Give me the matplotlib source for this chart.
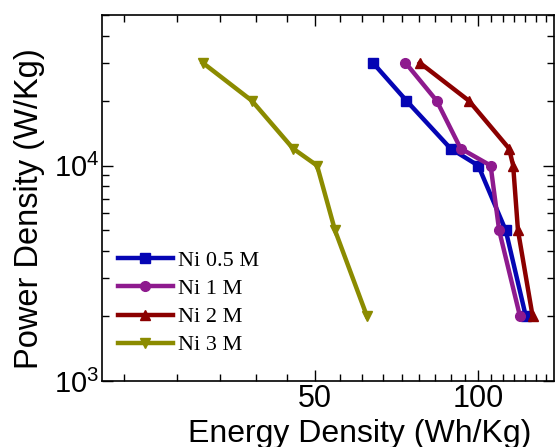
import numpy as np
import matplotlib
matplotlib.use("Agg")
import matplotlib.pyplot as plt
from matplotlib.ticker import FixedLocator, NullFormatter, FuncFormatter, LogLocator

plt.rcParams['font.family'] = 'Liberation Sans'
plt.rcParams['mathtext.fontset'] = 'custom'
plt.rcParams['mathtext.rm'] = 'Liberation Sans'

# data
power = [30000, 20000, 12000, 10000, 5000, 2000]
energy_05 = [63.9, 73.7, 88.9, 100.0, 112.4, 122.4]
energy_1 = [73.4, 83.8, 92.8, 105.4, 109.3, 119.4]
energy_2 = [78.0, 96.1, 114.0, 116.0, 118.4, 126.0]
energy_3 = [31.0, 38.2, 45.5, 50.4, 54.4, 62.3]
labels = ['Ni 0.5 M', 'Ni 1 M', 'Ni 2 M', 'Ni 3 M']
colors = ['#0505B4', '#8E1A8E', '#8B0000', '#8B8B00']
markers = ['s', 'o', '^', 'v']

fig = plt.figure(figsize=(5.56, 4.47), dpi=100)
ax = fig.add_axes([102/556, 66/447, 452/556, 366/447])

for e, lab, c, m in zip([energy_05, energy_1, energy_2, energy_3], labels, colors, markers):
    ax.plot(e, power, color=c, marker=m, markersize=7, linewidth=3.2, label=lab)

ax.set_xscale('log')
ax.set_yscale('log')
ax.set_xlim(20.2, 138)
ax.set_ylim(1000, 50000)

ax.xaxis.set_major_locator(FixedLocator([50, 100]))
ax.xaxis.set_minor_locator(FixedLocator([50*k/9 for k in range(4, 25) if k not in (9, 18)]))
ax.xaxis.set_major_formatter(FuncFormatter(lambda v, p: '%d' % v))
ax.xaxis.set_minor_formatter(NullFormatter())

ax.yaxis.set_major_locator(LogLocator(base=10))
ax.yaxis.set_minor_locator(LogLocator(base=10, subs=np.arange(2, 10)))
ax.yaxis.set_major_formatter(FuncFormatter(lambda v, p: r'$10^{%d}$' % round(np.log10(v))))
ax.yaxis.set_minor_formatter(NullFormatter())

ax.tick_params(which='both', direction='in', top=True, right=True, width=1, labelsize=22, pad=2)
ax.tick_params(axis='y', labelsize=21)
ax.tick_params(which='major', length=8)
ax.tick_params(which='minor', length=5)
for s in ax.spines.values():
    s.set_linewidth(1.2)

ax.set_xlabel('Energy Density (Wh/Kg)', fontsize=23)
ax.set_ylabel('Power Density (W/Kg)', fontsize=23.5)
ax.xaxis.set_label_coords(0.569, -0.103)
ax.yaxis.set_label_coords(-0.127, 0.47)

ax.legend(loc='upper left', bbox_to_anchor=(0.0, 0.399), frameon=False,
          prop={'family': 'Liberation Serif', 'size': 16},
          handlelength=2.5, handletextpad=0.2, labelspacing=0.34, borderaxespad=0.3)

fig.savefig('out.png', dpi=100)
